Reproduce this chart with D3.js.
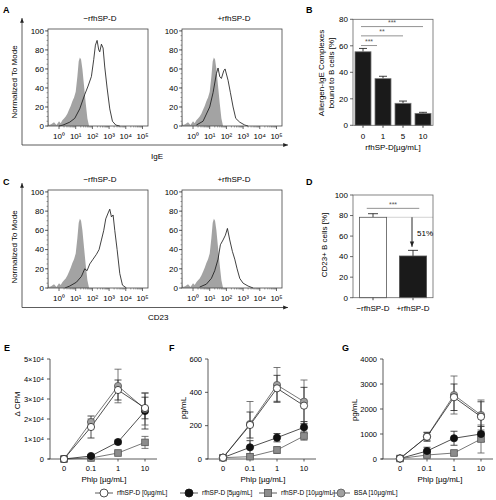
<!DOCTYPE html>
<html><head><meta charset="utf-8">
<script src="https://cdn.jsdelivr.net/npm/d3@7"></script>
<style>body{margin:0;background:#fff}svg{font-family:"Liberation Sans",Arial,sans-serif}</style>
</head><body><svg id="c" width="496" height="500"></svg>
<script>
// ---------------- DATA ----------------
const histDecades = [0,1,2,3,4,5];
const histDecadeLabels = ["10⁰","10¹","10²","10³","10⁴","10⁵"];
const histYTicks = [0,20,40,60,80,100];
const histTitles = ["−rfhSP-D","+rfhSP-D"];
// isotype (grey filled) histogram: log10 fluorescence, % of mode
const isoX = [-0.66,-0.63,-0.58,-0.45,-0.3,-0.15,0.0,0.1,0.2,0.3,0.4,0.5,0.6,0.7,0.8,0.9,1.0,1.1,1.18,1.25,1.32,1.4,1.5,1.6,1.7,1.8];
const isoY = [22,3,1,2,4,1,5,3,6,8,10,13,17,21,26,30,36,52,68,72,70,60,42,24,8,0];
// IgE, -rfhSP-D
const igeMinusX = [0.0,0.24,0.64,0.94,1.24,1.54,1.74,1.94,2.08,2.18,2.28,2.38,2.44,2.54,2.64,2.74,2.88,3.04,3.2,3.4,3.64];
const igeMinusY = [0,1,4,8,18,33,42,52,70,85,90,80,78,86,82,62,40,18,5,1,0];
// IgE, +rfhSP-D
const igePlusX = [0.2,0.6,1.0,1.2,1.4,1.5,1.6,1.7,1.84,1.92,2.1,2.24,2.4,2.56,2.8,3.1,3.3];
const igePlusY = [1,5,20,35,55,61,52,50,58,60,48,35,20,8,4,1,0];
// CD23, -rfhSP-D
const cdMinusX = [0.35,0.64,1.04,1.34,1.54,1.68,1.84,2.04,2.24,2.4,2.54,2.68,2.8,2.94,3.04,3.14,3.24,3.34,3.48,3.64,3.8,4.04];
const cdMinusY = [0,2,6,12,20,18,25,30,35,40,50,60,72,78,82,74,76,60,40,15,3,0];
// CD23, +rfhSP-D
const cdPlusX = [0.4,0.8,1.1,1.3,1.5,1.64,1.8,1.94,2.06,2.2,2.36,2.5,2.64,2.8,3.0,3.3,3.6];
const cdPlusY = [1,4,10,18,30,45,50,55,62,50,38,30,20,10,5,2,0];

// Panel B
const bCats = ["0","1","5","10"];
const bVals = [55.5,35.2,16.6,9.0];
const bErr = [2.5,1.8,1.7,0.8];
const bTicks = [0,20,40,60,80];
const bSigTo = ["10","5","1"];
const bSigLabels = ["***","**","***"];
const bSigLevels = [74.5,67.5,60.2];

// Panel D
const dCats = ["−rfhSP-D","+rfhSP-D"];
const dVals = [78.3,40.6];
const dErr = [3.5,5.5];
const dTicks = [0,20,40,60,80,100];
const dSigLevel = 87;
const dPctLabel = "51%";

// Panels E-G
const phlpCats = ["0","0.1","1","10"];
const seriesNames = ["rfhSP-D [0µg/mL]","rfhSP-D [5µg/mL]","rfhSP-D [10µg/mL]","BSA [10µg/mL]"];
const eTicks = [0,10000,20000,30000,40000,50000];
const eTickLabels = ["0","1×10⁴","2×10⁴","3×10⁴","4×10⁴","5×10⁴"];
const eWhite = [0,16000,34500,25500], eWhiteErr = [0,5500,5000,5400];
const eBlack = [0,1500,8500,24000], eBlackErr = [0,500,1000,9000];
const eSquare = [0,500,3000,8300], eSquareErr = [0,300,500,3000];
const eBsa = [0,18500,36500,25000], eBsaErr = [0,1500,8400,8000];
const fTicks = [0,200,400,600];
const fWhite = [8,204,424,320], fWhiteErr = [3,78,78,110];
const fBlack = [8,70,128,190], fBlackErr = [3,40,25,35];
const fSquare = [8,14,54,138], fSquareErr = [3,5,20,25];
const fBsa = [8,210,444,344], fBsaErr = [3,135,105,130];
const gTicks = [0,1000,2000,3000,4000];
const gWhite = [20,890,2470,1690], gWhiteErr = [10,180,530,600];
const gBlack = [20,320,830,1000], gBlackErr = [10,150,280,300];
const gSquare = [20,160,240,800], gSquareErr = [10,50,80,560];
const gBsa = [20,900,2560,1760], gBsaErr = [10,150,760,600];

// ---------------- DRAWING ----------------
const svg = d3.select("#c");
const FS = 8;
const FS2 = 7.5;
const AX = "#444";

const defs = svg.append("defs");
defs.append("marker").attr("id","arr").attr("viewBox","0 0 10 10").attr("refX",10).attr("refY",5)
  .attr("markerWidth",6).attr("markerHeight",6).attr("orient","auto-start-reverse")
  .append("path").attr("d","M0,1 L10,5 L0,9 Z").attr("fill","#222");

function letter(t,x,y){svg.append("text").attr("x",x).attr("y",y).attr("font-size",9).attr("font-weight","bold").text(t);}

function histPanel(x0, yTop, yBot, cx, cy, title){
  const g = svg.append("g");
  const x = d3.scaleLinear().domain([-0.66,5.33]).range([x0,x0+100]);
  const y = d3.scaleLinear().domain([0,102]).range([yBot,yTop]);
  const iso = isoX.map((v,i)=>[v,isoY[i]]);
  g.append("path").datum(iso).attr("fill","#a3a3a3").attr("stroke","none")
    .attr("d",d3.area().x(d=>x(d[0])).y0(yBot).y1(d=>y(d[1])));
  const cur = cx.map((v,i)=>[v,cy[i]]);
  g.append("path").datum(cur).attr("fill","none").attr("stroke","#111").attr("stroke-width",0.8)
    .attr("d",d3.line().x(d=>x(d[0])).y(d=>y(d[1])));
  g.append("rect").attr("x",x0).attr("y",yTop).attr("width",100).attr("height",yBot-yTop)
    .attr("fill","none").attr("stroke",AX).attr("stroke-width",0.8);
  const minorY = d3.range(0,101,5);
  g.selectAll(".my").data(minorY).join("line").attr("x1",x0-1.5).attr("x2",x0).attr("y1",d=>y(d)).attr("y2",d=>y(d)).attr("stroke",AX).attr("stroke-width",0.5);
  g.selectAll(".ty").data(histYTicks).join("line").attr("x1",x0-3).attr("x2",x0).attr("y1",d=>y(d)).attr("y2",d=>y(d)).attr("stroke",AX).attr("stroke-width",0.8);
  g.selectAll(".ly").data(histYTicks).join("text").attr("x",x0-4).attr("y",d=>y(d)).attr("dy","0.35em")
    .attr("text-anchor","end").attr("font-size",FS).text(d=>d);
  const minorX = [];
  histDecades.slice(0,5).forEach(d=>{for(let k=2;k<10;k++) minorX.push(d+Math.log10(k));});
  g.selectAll(".mx").data(minorX).join("line").attr("x1",d=>x(d)).attr("x2",d=>x(d)).attr("y1",yBot).attr("y2",yBot+1.5).attr("stroke",AX).attr("stroke-width",0.5);
  g.selectAll(".tx").data(histDecades).join("line").attr("x1",d=>x(d)).attr("x2",d=>x(d)).attr("y1",yBot).attr("y2",yBot+3).attr("stroke",AX).attr("stroke-width",0.8);
  g.selectAll(".lx").data(histDecades).join("text").attr("x",d=>x(d)).attr("y",yBot+13)
    .attr("text-anchor","middle").attr("font-size",FS).text((d,i)=>histDecadeLabels[i]);
  g.append("text").attr("x",x0+52).attr("y",yTop-8).attr("text-anchor","middle").attr("font-size",FS).text(title);
}

function outerAxes(yTip, yBase, label, labelX, labelY, ylabCY){
  svg.append("line").attr("x1",22).attr("x2",22).attr("y1",yBase).attr("y2",yTip)
    .attr("stroke","#333").attr("stroke-width",0.8).attr("marker-end","url(#arr)");
  svg.append("line").attr("x1",22).attr("x2",288).attr("y1",yBase).attr("y2",yBase)
    .attr("stroke","#333").attr("stroke-width",0.8).attr("marker-end","url(#arr)");
  svg.append("text").attr("x",labelX).attr("y",labelY).attr("font-size",FS).text(label);
  svg.append("text").attr("transform",`translate(17,${ylabCY}) rotate(-90)`).attr("text-anchor","middle")
    .attr("font-size",FS).text("Normalized To Mode");
}

// Panel A
letter("A",3,13);
histPanel(48,29,126,igeMinusX,igeMinusY,histTitles[0]);
histPanel(182,29,126,igePlusX,igePlusY,histTitles[1]);
outerAxes(18,145,"IgE",151,159,82);

// Panel C
letter("C",3,185);
histPanel(48,190,288,cdMinusX,cdMinusY,histTitles[0]);
histPanel(182,190,288,cdPlusX,cdPlusY,histTitles[1]);
outerAxes(183,307.5,"CD23",148,320,247);

function barFrame(g, x, y, ticks, left, right){
  const [y0,y1] = y.range();
  g.append("rect").attr("x",left).attr("y",y1).attr("width",right-left).attr("height",y0-y1)
    .attr("fill","none").attr("stroke","#666").attr("stroke-width",0.8);
  g.selectAll(".ty").data(ticks).join("line").attr("x1",left-3).attr("x2",left).attr("y1",d=>y(d)).attr("y2",d=>y(d)).attr("stroke","#444").attr("stroke-width",0.8);
  g.selectAll(".ly").data(ticks).join("text").attr("x",left-5).attr("y",d=>y(d)).attr("dy","0.35em").attr("text-anchor","end").attr("font-size",FS).text(d=>d);
}

// Panel B
letter("B",306,13);
{
  const g = svg.append("g");
  const x = d3.scaleBand().domain(bCats).range([353,433]).paddingInner(0.2).paddingOuter(0.1);
  const y = d3.scaleLinear().domain([0,80]).range([125.3,19.3]);
  const bw = x.bandwidth();
  g.selectAll(".eb").data(bCats).join("line").attr("x1",d=>x(d)+bw/2).attr("x2",d=>x(d)+bw/2)
    .attr("y1",(d,i)=>y(bVals[i])).attr("y2",(d,i)=>y(bVals[i]+bErr[i])).attr("stroke","#111").attr("stroke-width",0.8);
  g.selectAll(".ec").data(bCats).join("line").attr("x1",d=>x(d)+bw/2-4).attr("x2",d=>x(d)+bw/2+4)
    .attr("y1",(d,i)=>y(bVals[i]+bErr[i])).attr("y2",(d,i)=>y(bVals[i]+bErr[i])).attr("stroke","#111").attr("stroke-width",0.8);
  g.selectAll(".bar").data(bCats).join("rect").attr("x",d=>x(d)).attr("width",bw)
    .attr("y",(d,i)=>y(bVals[i])).attr("height",(d,i)=>y(0)-y(bVals[i]))
    .attr("fill","#1a1a1a").attr("stroke","#777").attr("stroke-width",0.8);
  barFrame(g,x,y,bTicks,353,433);
  g.selectAll(".tx").data(bCats).join("line").attr("x1",d=>x(d)+bw/2).attr("x2",d=>x(d)+bw/2).attr("y1",y(0)).attr("y2",y(0)+2.5).attr("stroke","#444");
  g.selectAll(".lx").data(bCats).join("text").attr("x",d=>x(d)+bw/2).attr("y",138.5).attr("text-anchor","middle").attr("font-size",FS).text(d=>d);
  g.append("text").attr("x",393).attr("y",149.5).attr("text-anchor","middle").attr("font-size",FS).text("rfhSP-D[µg/mL]");
  const xs = x(bCats[0])+bw/2-2;
  bSigTo.forEach((t,i)=>{
    const xe = x(t)+bw/2 - (i===2?6:0);
    g.append("line").attr("x1",xs).attr("x2",xe).attr("y1",y(bSigLevels[i])).attr("y2",y(bSigLevels[i])).attr("stroke","#777").attr("stroke-width",0.8);
    g.append("text").attr("x",(xs+xe)/2).attr("y",y(bSigLevels[i])-1.5).attr("text-anchor","middle").attr("font-size",7).attr("fill","#555").text(bSigLabels[i]);
  });
  svg.append("text").attr("transform","translate(323.5,73) rotate(-90)").attr("text-anchor","middle").attr("font-size",FS).text("Allergen-IgE Complexes");
  svg.append("text").attr("transform","translate(333.5,73) rotate(-90)").attr("text-anchor","middle").attr("font-size",FS).text("bound to B cells [%]");
}

// Panel D
letter("D",306,185);
{
  const g = svg.append("g");
  const x = d3.scaleBand().domain(dCats).range([353,433]).paddingInner(0.32).paddingOuter(0.16);
  const y = d3.scaleLinear().domain([0,100]).range([297.7,195]);
  const bw = x.bandwidth();
  g.append("line").attr("x1",x(dCats[0])+bw).attr("x2",433).attr("y1",y(dVals[0])).attr("y2",y(dVals[0])).attr("stroke","#c8c8c8").attr("stroke-width",0.8);
  g.selectAll(".eb").data(dCats).join("line").attr("x1",d=>x(d)+bw/2).attr("x2",d=>x(d)+bw/2)
    .attr("y1",(d,i)=>y(dVals[i])).attr("y2",(d,i)=>y(dVals[i]+dErr[i])).attr("stroke","#111").attr("stroke-width",0.8);
  g.selectAll(".ec").data(dCats).join("line").attr("x1",d=>x(d)+bw/2-5).attr("x2",d=>x(d)+bw/2+5)
    .attr("y1",(d,i)=>y(dVals[i]+dErr[i])).attr("y2",(d,i)=>y(dVals[i]+dErr[i])).attr("stroke","#111").attr("stroke-width",0.8);
  g.selectAll(".bar").data(dCats).join("rect").attr("x",d=>x(d)).attr("width",bw)
    .attr("y",(d,i)=>y(dVals[i])).attr("height",(d,i)=>y(0)-y(dVals[i]))
    .attr("fill",(d,i)=>i===0?"#fff":"#1a1a1a").attr("stroke","#555").attr("stroke-width",0.8);
  barFrame(g,x,y,dTicks,353,433);
  g.selectAll(".tx").data(dCats).join("line").attr("x1",d=>x(d)+bw/2).attr("x2",d=>x(d)+bw/2).attr("y1",y(0)).attr("y2",y(0)+2.5).attr("stroke","#444");
  g.selectAll(".lx").data(dCats).join("text").attr("x",d=>x(d)+bw/2).attr("y",311).attr("text-anchor","middle").attr("font-size",FS).text(d=>d);
  const xs = x(dCats[0])+bw*0.27, xe = x(dCats[1])+bw*0.73;
  g.append("line").attr("x1",xs).attr("x2",xe).attr("y1",y(dSigLevel)).attr("y2",y(dSigLevel)).attr("stroke","#777").attr("stroke-width",0.8);
  g.append("text").attr("x",(xs+xe)/2).attr("y",y(dSigLevel)-1.5).attr("text-anchor","middle").attr("font-size",7).attr("fill","#555").text("***");
  const ax = x(dCats[1])+bw/2-1;
  g.append("line").attr("x1",ax).attr("x2",ax).attr("y1",y(dVals[0])).attr("y2",y(dVals[1]+dErr[1])-3.5)
    .attr("stroke","#111").attr("stroke-width",0.9).attr("marker-end","url(#arr)");
  g.append("text").attr("x",ax+5).attr("y",y((dVals[0]+dVals[1]+dErr[1])/2)+2.5).attr("font-size",FS).text(dPctLabel);
  svg.append("text").attr("transform","translate(327,245) rotate(-90)").attr("text-anchor","middle").attr("font-size",FS).text("CD23+ B cells [%]");
}

// Line panels E-G
const styles = [
  {fill:"#fff",stroke:"#222",shape:"circle"},
  {fill:"#111",stroke:"#111",shape:"circle"},
  {fill:"#8c8c8c",stroke:"#555",shape:"square"},
  {fill:"#a0a0a0",stroke:"#555",shape:"circle"}
];
function marker(g, shape, cx, cy, st, r){
  if(shape==="circle") g.append("circle").attr("cx",cx).attr("cy",cy).attr("r",r).attr("fill",st.fill).attr("stroke",st.stroke).attr("stroke-width",0.8);
  else g.append("rect").attr("x",cx-r).attr("y",cy-r).attr("width",2*r).attr("height",2*r).attr("fill",st.fill).attr("stroke",st.stroke).attr("stroke-width",0.8);
}
function linePanel(axisX, xStart, yMax, ticks, tickLabels, series, errs, ylab, ylabX, ylabY){
  const g = svg.append("g");
  const x = d3.scalePoint().domain(phlpCats).range([xStart,xStart+81]);
  const y = d3.scaleLinear().domain([0,yMax]).range([459,359]);
  g.append("line").attr("x1",axisX).attr("x2",axisX).attr("y1",y(0)).attr("y2",y(yMax)).attr("stroke","#333").attr("stroke-width",0.8);
  g.append("line").attr("x1",axisX-2).attr("x2",xStart+81+12).attr("y1",y(0)).attr("y2",y(0)).attr("stroke","#333").attr("stroke-width",0.8);
  g.selectAll(".ty").data(ticks).join("line").attr("x1",axisX-3).attr("x2",axisX).attr("y1",d=>y(d)).attr("y2",d=>y(d)).attr("stroke","#333").attr("stroke-width",0.8);
  g.selectAll(".ly").data(ticks).join("text").attr("x",axisX-6).attr("y",d=>y(d)).attr("dy","0.35em").attr("text-anchor","end").attr("font-size",FS2).text((d,i)=>tickLabels[i]);
  g.selectAll(".tx").data(phlpCats).join("line").attr("x1",d=>x(d)).attr("x2",d=>x(d)).attr("y1",y(0)).attr("y2",y(0)+2.5).attr("stroke","#333").attr("stroke-width",0.8);
  g.selectAll(".lx").data(phlpCats).join("text").attr("x",d=>x(d)).attr("y",471).attr("text-anchor","middle").attr("font-size",FS2).text(d=>d);
  g.append("text").attr("x",xStart+40).attr("y",481.5).attr("text-anchor","middle").attr("font-size",FS).text("Phlp [µg/mL]");
  svg.append("text").attr("transform",`translate(${ylabX},${ylabY}) rotate(-90)`).attr("text-anchor","middle").attr("font-size",FS).text(ylab);
  const order = [2,1,3,0];
  order.forEach(si=>{
    const vals = series[si], er = errs[si];
    const col = si>=2 ? "#555" : "#222";
    phlpCats.forEach((c,i)=>{
      if(er[i]<=0) return;
      const cx = x(c);
      g.append("line").attr("x1",cx).attr("x2",cx).attr("y1",y(Math.max(0,vals[i]-er[i]))).attr("y2",y(vals[i]+er[i])).attr("stroke",col).attr("stroke-width",0.8);
      [vals[i]-er[i], vals[i]+er[i]].forEach(v=>{ if(v>0) g.append("line").attr("x1",cx-3.5).attr("x2",cx+3.5).attr("y1",y(v)).attr("y2",y(v)).attr("stroke",col).attr("stroke-width",0.8);});
    });
    g.append("path").datum(vals).attr("fill","none").attr("stroke",col).attr("stroke-width",0.8)
      .attr("d",d3.line().x((d,i)=>x(phlpCats[i])).y(d=>y(d)));
  });
  order.forEach(si=>{
    series[si].forEach((v,i)=>marker(g, styles[si].shape, x(phlpCats[i]), y(v), styles[si], styles[si].shape==="square"?3.3:3.6));
  });
}
letter("E",4,351);
linePanel(50,64,50000,eTicks,eTickLabels,[eWhite,eBlack,eSquare,eBsa],[eWhiteErr,eBlackErr,eSquareErr,eBsaErr],"Δ CPM",20,404);
letter("F",169,351);
linePanel(208,223,600,fTicks,fTicks.map(String),[fWhite,fBlack,fSquare,fBsa],[fWhiteErr,fBlackErr,fSquareErr,fBsaErr],"pg/mL",186,408);
letter("G",342,351);
linePanel(383,400,4000,gTicks,gTicks.map(String),[gWhite,gBlack,gSquare,gBsa],[gWhiteErr,gBlackErr,gSquareErr,gBsaErr],"pg/mL",357,410);

// Legend
{
  const g = svg.append("g");
  const xsArr = [95,180,259,332];
  const ly = 493;
  seriesNames.forEach((n,i)=>{
    const x0 = xsArr[i];
    g.append("line").attr("x1",x0).attr("x2",x0+18).attr("y1",ly).attr("y2",ly).attr("stroke","#333").attr("stroke-width",0.8);
    marker(g, styles[i].shape, x0+9, ly, styles[i], styles[i].shape==="square"?3.6:4);
    g.append("text").attr("x",x0+22).attr("y",ly).attr("dy","0.35em").attr("font-size",6.5).text(n);
  });
}
</script></body></html>
